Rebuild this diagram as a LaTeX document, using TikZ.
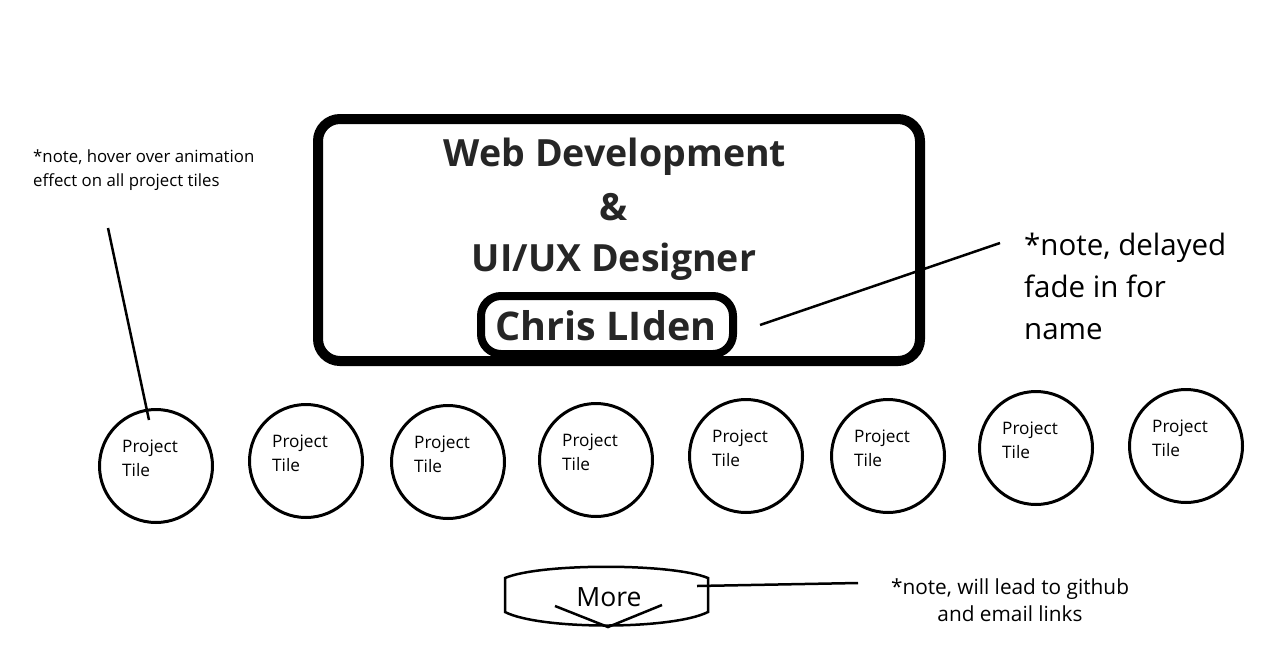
\documentclass[tikz,border=0pt]{standalone}
\usepackage{fontspec}
\setmainfont{Open Sans}
\usetikzlibrary{calc}
\definecolor{ink}{HTML}{262626}
\tikzset{
  tile/.style={circle,draw=black,line width=3pt,minimum size=113pt,inner sep=0pt},
  tiletext/.style={anchor=west,align=left,font=\fontsize{17.2}{24}\selectfont,inner sep=0pt},
  note/.style={align=left,inner sep=0pt,anchor=north west},
  connector/.style={draw=black,line width=2.5pt},
  title/.style={font=\fontsize{37.5}{40}\selectfont\bfseries,text=ink,inner sep=0pt}
}
\begin{document}
\begin{tikzpicture}[x=1pt,y=-1pt]
\useasboundingbox (0,0) rectangle (1284,648);
% main box
\draw[line width=10pt,rounded corners=22pt] (318,119) rectangle (920,361);
\node[title] (web) at (615,157) {Web Development};
\node[title] (amp) at (614,207) {\&};
\node[title] (uiux) at (614,262) {UI/UX Designer};
\node[draw=black,line width=8pt,rounded corners=20pt,minimum width=252pt,minimum height=58pt,inner sep=0pt] (name) at (607,325) {};
\node[title,font=\fontsize{39.5}{40}\selectfont\bfseries] (namet) at (606,326) {Chris LIden};
% name note
\coordinate (nameline) at (760,325);
\coordinate (namenoteend) at (1000,243);
\draw[connector] (nameline) -- (namenoteend);
\node[note,font=\fontsize{29.5}{42}\selectfont] (namenote) at (1024,233) {*note, delayed\\fade in for\\name};
% hover note
\node[note,font=\fontsize{16.8}{24}\selectfont] (hovernote) at (33,150) {*note, hover over animation\\effect on all project tiles};
% tiles
\foreach \i/\x/\y in {1/156/466,2/306/461,3/448/462,4/596/460,5/746/456,6/888/456,7/1036/448,8/1186/446}{
  \node[tile] (t\i) at (\x,\y) {};
  \node[tiletext] (tt\i) at ($(t\i.center)+(-34,-8)$) {Project\\Tile};
}
\coordinate (hoverend) at (108,228);
\coordinate (hovertip) at (149,420);
\draw[connector] (hoverend) -- (hovertip);
% More button
\draw[line width=2.5pt] (505,578) .. controls (540,563) and (672,563) .. (708,578) -- (708,612) .. controls (672,630) and (540,630) .. (505,612) -- cycle;
\node[inner sep=0pt,font=\fontsize{26.5}{30}\selectfont] (more) at (609,597) {More};
\coordinate (vl) at (555,606);
\coordinate (vb) at (608,627);
\coordinate (vr) at (662,605);
\draw[line width=2.5pt] (vl) -- (vb) -- (vr);
\coordinate (morelink) at (697,586);
\node[align=center,inner sep=0pt,font=\fontsize{20.8}{27}\selectfont] (morenote) at (1010,600) {*note, will lead to github\\and email links};
\coordinate (morenoteend) at (858,583);
\draw[connector] (morelink) -- (morenoteend);
\end{tikzpicture}
\end{document}
